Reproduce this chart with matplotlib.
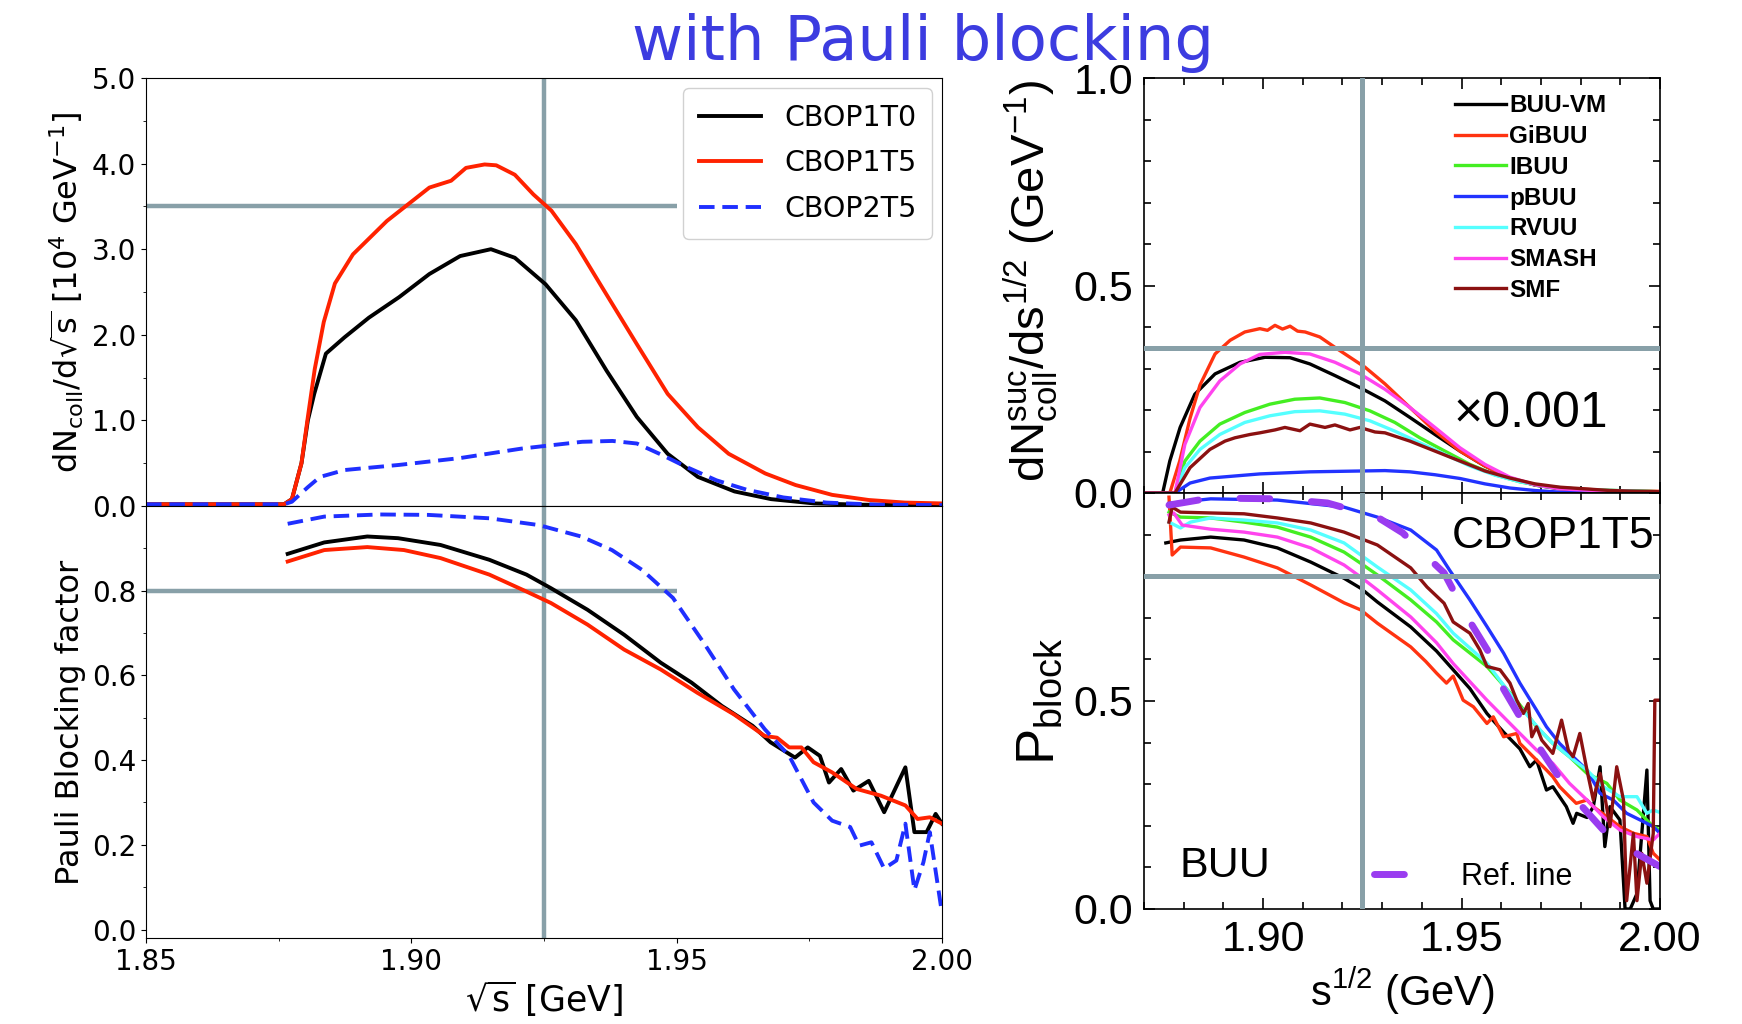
import matplotlib
matplotlib.use("Agg")
import matplotlib.pyplot as plt
from matplotlib.ticker import MultipleLocator, FixedLocator, FixedFormatter

# ---------------- left panel data ----------------
# upper: dN_coll/dsqrt(s) in units of 1e4 GeV^-1
up_t0_x = [1.850, 1.876, 1.8775, 1.8793, 1.8805, 1.8817, 1.8839, 1.8874, 1.892, 1.8977, 1.9034,
           1.9092, 1.915, 1.9195, 1.9253, 1.931, 1.9368, 1.9425, 1.9483, 1.954, 1.9609, 1.9678,
           1.9759, 1.985, 2.000]
up_t0_y = [0.02, 0.02, 0.08, 0.5, 1.0, 1.31, 1.78, 1.97, 2.2, 2.44, 2.71,
           2.92, 3.0, 2.9, 2.59, 2.17, 1.58, 1.04, 0.61, 0.34, 0.17, 0.08,
           0.03, 0.015, 0.01]
up_t5_x = [1.850, 1.876, 1.8775, 1.8793, 1.8805, 1.8818, 1.8835, 1.8856, 1.889, 1.8954, 1.9034,
           1.9075, 1.9103, 1.9138, 1.916, 1.9195, 1.923, 1.9264, 1.931, 1.9356, 1.9425, 1.9483,
           1.954, 1.9598, 1.9667, 1.9724, 1.9793, 1.9862, 1.993, 2.000]
up_t5_y = [0.02, 0.02, 0.08, 0.5, 1.04, 1.6, 2.15, 2.6, 2.94, 3.33, 3.72,
           3.80, 3.95, 3.99, 3.98, 3.87, 3.64, 3.45, 3.06, 2.59, 1.89, 1.31,
           0.92, 0.61, 0.38, 0.245, 0.13, 0.07, 0.04, 0.03]
up_p2_x = [1.850, 1.876, 1.8775, 1.8805, 1.8828, 1.8874, 1.8977, 1.9092, 1.9207, 1.9264, 1.9322,
           1.9379, 1.9425, 1.9471, 1.9517, 1.9575, 1.9632, 1.9701, 1.9782, 1.988, 2.000]
up_p2_y = [0.02, 0.02, 0.05, 0.22, 0.34, 0.42, 0.48, 0.56, 0.67, 0.71, 0.75,
           0.76, 0.73, 0.6, 0.46, 0.3, 0.19, 0.1, 0.04, 0.015, 0.01]

# lower: Pauli blocking factor
lo_t0_x = [1.8767, 1.8836, 1.8917, 1.8975, 1.9055, 1.9147, 1.9217, 1.9263, 1.9332, 1.9401, 1.947,
           1.9528, 1.9585, 1.9643, 1.9677, 1.9723, 1.9747, 1.977, 1.9787, 1.981, 1.9833, 1.9862,
           1.9891, 1.9931, 1.9948, 1.9971, 1.9988, 2.000]
lo_t0_y = [0.887, 0.914, 0.928, 0.924, 0.908, 0.873, 0.838, 0.806, 0.755, 0.696, 0.63,
           0.583, 0.528, 0.481, 0.442, 0.406, 0.43, 0.41, 0.347, 0.379, 0.328, 0.351,
           0.277, 0.383, 0.23, 0.23, 0.273, 0.25]
lo_t5_x = [1.8767, 1.8836, 1.8917, 1.8986, 1.9055, 1.9147, 1.9217, 1.9263, 1.9332, 1.9401, 1.947,
           1.9539, 1.9608, 1.9666, 1.9689, 1.9712, 1.9735, 1.9758, 1.9793, 1.9839, 1.9885, 1.9931,
           1.9954, 1.9977, 2.000]
lo_t5_y = [0.869, 0.896, 0.903, 0.896, 0.877, 0.838, 0.798, 0.771, 0.72, 0.661, 0.614,
           0.559, 0.508, 0.457, 0.453, 0.43, 0.43, 0.395, 0.371, 0.332, 0.316, 0.293,
           0.261, 0.265, 0.25]
lo_p2_x = [1.8767, 1.8836, 1.894, 1.9032, 1.9147, 1.924, 1.932, 1.9378, 1.9435, 1.9493, 1.9551,
           1.9608, 1.9666, 1.9712, 1.9758, 1.9793, 1.9827, 1.9844, 1.9867, 1.9891, 1.9914, 1.9931,
           1.9948, 1.9965, 1.9977, 2.000]
lo_p2_y = [0.958, 0.975, 0.98, 0.979, 0.971, 0.955, 0.928, 0.896, 0.849, 0.783, 0.677,
           0.567, 0.473, 0.41, 0.30, 0.257, 0.242, 0.198, 0.206, 0.144, 0.163, 0.25,
           0.093, 0.159, 0.23, 0.038]

# ---------------- right panel data (BUU codes, CBOP1T5) ----------------
codes = ["BUU-VM", "GiBUU", "IBUU", "pBUU", "RVUU", "SMASH", "SMF"]
code_colors = ["black", "#ff3311", "#44ee22", "#2233ff", "#55ffff", "#ff44ee", "#8b1111"]

# upper: dN^suc_coll/ds^1/2 (x0.001)
dn_x = {
    "BUU-VM": [1.870, 1.8747, 1.8765, 1.8791, 1.8828, 1.8879, 1.8942, 1.9005, 1.9068, 1.9118, 1.9181,
               1.9244, 1.9307, 1.937, 1.9433, 1.9496, 1.9559, 1.9622, 1.9685, 1.9748, 1.9874, 2.0],
    "GiBUU": [1.870, 1.8765, 1.879, 1.8816, 1.8841, 1.8879, 1.8917, 1.8954, 1.8992, 1.9011, 1.903,
              1.9049, 1.9068, 1.9087, 1.9106, 1.9143, 1.9181, 1.9219, 1.9257, 1.9307, 1.937, 1.9433,
              1.9496, 1.9559, 1.9622, 1.9685, 1.9748, 1.9874, 2.0],
    "IBUU": [1.870, 1.8778, 1.8803, 1.8841, 1.8891, 1.8954, 1.9017, 1.908, 1.9143, 1.9206, 1.9269,
             1.9332, 1.9395, 1.9458, 1.9521, 1.9584, 1.9647, 1.971, 1.9811, 2.0],
    "pBUU": [1.870, 1.8778, 1.8816, 1.8866, 1.8992, 1.9118, 1.9244, 1.9307, 1.937, 1.9433, 1.9496,
             1.9559, 1.9622, 1.9685, 1.9748, 2.0],
    "RVUU": [1.870, 1.8778, 1.8803, 1.8841, 1.8891, 1.8954, 1.9017, 1.908, 1.9143, 1.9206, 1.9269,
             1.9332, 1.9395, 1.9458, 1.9521, 1.9584, 1.9647, 1.971, 1.9811, 2.0],
    "SMASH": [1.870, 1.8778, 1.8803, 1.8841, 1.8891, 1.8942, 1.8992, 1.9055, 1.9118, 1.9181, 1.9244,
              1.9307, 1.937, 1.9433, 1.9496, 1.9559, 1.9622, 1.9685, 1.9748, 1.9874, 2.0],
    "SMF": [1.870, 1.8778, 1.8816, 1.8866, 1.8904, 1.8929, 1.8967, 1.8992, 1.903, 1.9055, 1.9093,
            1.9118, 1.9156, 1.9181, 1.9219, 1.9244, 1.9282, 1.9307, 1.937, 1.9433, 1.9496, 1.9559,
            1.9622, 1.9685, 1.9748, 1.9874, 2.0],
}
dn_y = {
    "BUU-VM": [0, 0, 0.077, 0.158, 0.238, 0.287, 0.315, 0.327, 0.326, 0.311, 0.283,
               0.254, 0.222, 0.182, 0.141, 0.101, 0.065, 0.036, 0.019, 0.01, 0.004, 0.002],
    "GiBUU": [0, 0, 0.077, 0.18, 0.26, 0.335, 0.368, 0.388, 0.396, 0.392, 0.404,
              0.395, 0.402, 0.39, 0.388, 0.376, 0.351, 0.327, 0.303, 0.263, 0.206, 0.149,
              0.101, 0.065, 0.036, 0.02, 0.012, 0.006, 0.004],
    "IBUU": [0, 0, 0.077, 0.125, 0.166, 0.194, 0.214, 0.226, 0.229, 0.218, 0.198,
             0.17, 0.133, 0.101, 0.069, 0.044, 0.027, 0.016, 0.008, 0.003],
    "pBUU": [0, 0, 0.024, 0.036, 0.046, 0.051, 0.053, 0.054, 0.051, 0.044, 0.035,
             0.022, 0.012, 0.006, 0.002, 0.001],
    "RVUU": [0, 0, 0.061, 0.105, 0.141, 0.17, 0.186, 0.196, 0.198, 0.19, 0.174,
             0.149, 0.121, 0.093, 0.065, 0.043, 0.027, 0.016, 0.008, 0.003],
    "SMASH": [0, 0, 0.117, 0.206, 0.27, 0.311, 0.334, 0.339, 0.335, 0.315, 0.287,
              0.25, 0.206, 0.158, 0.109, 0.069, 0.038, 0.02, 0.01, 0.004, 0.002],
    "SMF": [0, 0, 0.061, 0.105, 0.125, 0.133, 0.141, 0.145, 0.152, 0.158, 0.15,
            0.166, 0.158, 0.164, 0.152, 0.158, 0.147, 0.145, 0.125, 0.101, 0.077, 0.053,
            0.036, 0.022, 0.014, 0.006, 0.003],
}

# lower: P_block
pb_x = {
    "BUU-VM": [1.8755, 1.8792, 1.8868, 1.8952, 1.9036, 1.912, 1.9204, 1.9246, 1.9288, 1.9372, 1.9437,
               1.9479, 1.9521, 1.9564, 1.9606, 1.9647, 1.9672, 1.9689, 1.9714, 1.973, 1.9747, 1.9764,
               1.9781, 1.979, 1.9816, 1.9832, 1.9849, 1.9861, 1.9874, 1.9899, 1.9912, 1.9925, 1.9942,
               1.9967, 1.9975, 1.9983, 2.0],
    "GiBUU": [1.8763, 1.8771, 1.8792, 1.8868, 1.8952, 1.9036, 1.912, 1.9204, 1.9246, 1.9288, 1.9372,
              1.9410, 1.9437, 1.9462, 1.9479, 1.9504, 1.953, 1.9564, 1.958, 1.9606, 1.9639, 1.9647,
              1.9689, 1.9714, 1.973, 1.9747, 1.9772, 1.9789, 1.9816, 1.9832, 1.9866, 1.9899, 1.9933,
              1.9967, 1.9983, 2.0],
    "IBUU": [1.8763, 1.8792, 1.8868, 1.8952, 1.9036, 1.912, 1.9204, 1.9246, 1.9288, 1.9372, 1.9437,
             1.9479, 1.9564, 1.9631, 1.9664, 1.9689, 1.973, 1.9772, 1.9816, 1.9866, 1.9899, 1.9942,
             1.9983, 2.0],
    "pBUU": [1.8763, 1.8792, 1.8868, 1.9036, 1.9204, 1.9288, 1.9372, 1.9437, 1.9471, 1.9521, 1.9564,
             1.9606, 1.9647, 1.9689, 1.9714, 1.9747, 1.9781, 1.9816, 1.9849, 1.9882, 1.9916, 1.995,
             1.9983, 2.0],
    "RVUU": [1.8763, 1.8792, 1.8817, 1.8868, 1.8952, 1.9036, 1.912, 1.9204, 1.9246, 1.9288, 1.9372,
             1.9437, 1.9479, 1.9564, 1.9647, 1.9706, 1.973, 1.9772, 1.9816, 1.9857, 1.9899, 1.9942,
             1.9967, 1.9983, 2.0],
    "SMASH": [1.8763, 1.8775, 1.8796, 1.8868, 1.8952, 1.9036, 1.912, 1.9204, 1.9246, 1.9288, 1.9372,
              1.9437, 1.9479, 1.9564, 1.9647, 1.9689, 1.973, 1.9772, 1.9816, 1.9857, 1.9899, 1.9942,
              1.9983, 2.0],
    "SMF": [1.8763, 1.8771, 1.8792, 1.8868, 1.8952, 1.9036, 1.912, 1.9204, 1.9288, 1.9372, 1.9413,
            1.9456, 1.9479, 1.9521, 1.9546, 1.9564, 1.9597, 1.9622, 1.9639, 1.9656, 1.9668, 1.9677,
            1.9689, 1.9702, 1.973, 1.9752, 1.9769, 1.9781, 1.9798, 1.9816, 1.9832, 1.9849, 1.9861,
            1.9874, 1.9891, 1.9908, 1.9916, 1.9933, 1.9942, 1.9954, 1.9967, 1.9983, 1.9987, 2.0],
}
pb_y = {
    "BUU-VM": [0.88, 0.887, 0.894, 0.887, 0.868, 0.834, 0.795, 0.771, 0.738, 0.678, 0.62,
               0.575, 0.53, 0.47, 0.425, 0.385, 0.342, 0.358, 0.286, 0.294, 0.27, 0.246,
               0.206, 0.23, 0.22, 0.246, 0.342, 0.15, 0.246, 0.214, 0.0, 0.0, 0.037,
               0.334, 0.02, 0.0, 0.0],
    "GiBUU": [0.99, 0.851, 0.87, 0.868, 0.846, 0.82, 0.779, 0.736, 0.719, 0.687, 0.63,
              0.595, 0.567, 0.543, 0.56, 0.502, 0.486, 0.446, 0.462, 0.414, 0.422, 0.398,
              0.358, 0.334, 0.318, 0.294, 0.27, 0.254, 0.262, 0.246, 0.222, 0.198, 0.182,
              0.174, 0.134, 0.118],
    "IBUU": [0.954, 0.942, 0.94, 0.93, 0.918, 0.894, 0.858, 0.831, 0.803, 0.743, 0.69,
             0.647, 0.583, 0.51, 0.47, 0.438, 0.398, 0.366, 0.326, 0.302, 0.262, 0.238,
             0.198, 0.19],
    "pBUU": [0.975, 0.978, 0.986, 0.983, 0.966, 0.942, 0.911, 0.863, 0.813, 0.743, 0.679,
             0.615, 0.543, 0.478, 0.438, 0.398, 0.366, 0.334, 0.278, 0.262, 0.23, 0.214,
             0.198, 0.182],
    "RVUU": [0.93, 0.916, 0.93, 0.94, 0.935, 0.928, 0.911, 0.88, 0.851, 0.822, 0.767,
             0.71, 0.663, 0.591, 0.486, 0.422, 0.398, 0.366, 0.334, 0.294, 0.27, 0.27,
             0.23, 0.238, 0.232],
    "SMASH": [0.947, 0.952, 0.923, 0.913, 0.906, 0.894, 0.868, 0.827, 0.798, 0.767, 0.702,
              0.64, 0.59, 0.502, 0.422, 0.382, 0.35, 0.302, 0.262, 0.222, 0.19, 0.174,
              0.166, 0.182],
    "SMF": [0.93, 0.966, 0.954, 0.952, 0.95, 0.94, 0.928, 0.906, 0.875, 0.82, 0.774,
            0.735, 0.69, 0.663, 0.623, 0.583, 0.575, 0.543, 0.502, 0.47, 0.494, 0.414,
            0.438, 0.406, 0.374, 0.454, 0.382, 0.366, 0.422, 0.334, 0.262, 0.326, 0.27,
            0.198, 0.342, 0.262, 0.02, 0.182, 0.02, 0.134, 0.062, 0.182, 0.502, 0.502],
}
ref_x = [1.8763, 1.8868, 1.9036, 1.9162, 1.9288, 1.9352, 1.9427, 1.9456, 1.9521, 1.957, 1.9597,
         1.9647, 1.9689, 1.9739, 1.9789, 1.9857, 1.9925, 2.0]
ref_y = [0.971, 0.988, 0.986, 0.976, 0.942, 0.904, 0.834, 0.808, 0.691, 0.615, 0.543,
         0.462, 0.398, 0.326, 0.262, 0.19, 0.142, 0.102]

GRAY = "#88a0a8"

plt.rcParams["mathtext.rm"] = "Liberation Sans"
plt.rcParams["mathtext.it"] = "Liberation Sans:italic"
plt.rcParams["mathtext.bf"] = "Liberation Sans:bold"
plt.rcParams["mathtext.sf"] = "Liberation Sans"

fig = plt.figure(figsize=(17.42, 10.24), dpi=100)
W, H = 1742, 1024


def box(l, t, r, b):
    return [l / W, 1 - b / H, (r - l) / W, (b - t) / H]


ax1 = fig.add_axes(box(146, 78, 942, 506))
ax2 = fig.add_axes(box(146, 506, 942, 938), sharex=ax1)
ax3 = fig.add_axes(box(1144, 78, 1660, 493))
ax4 = fig.add_axes(box(1144, 493, 1660, 909), sharex=ax3)

# ---------------- left panel ----------------
ax1.plot(up_t0_x, up_t0_y, color="black", lw=2.8, label="CBOP1T0")
ax1.plot(up_t5_x, up_t5_y, color="#ff2200", lw=2.8, label="CBOP1T5")
ax1.plot(up_p2_x, up_p2_y, color="#1f2fff", lw=2.8, ls=(0, (4, 2)), label="CBOP2T5")
ax1.axvline(1.925, color=GRAY, lw=3.2, zorder=1)
ax1.hlines(3.5, 1.85, 1.95, color=GRAY, lw=3.2, zorder=1)
ax1.set_xlim(1.85, 2.0)
ax1.set_ylim(0, 5.0)
ax1.yaxis.set_major_locator(MultipleLocator(1.0))
ax1.yaxis.set_minor_locator(MultipleLocator(0.5))
ax1.yaxis.set_major_formatter(plt.FormatStrFormatter("%.1f"))
ax1.tick_params(axis="x", which="both", length=0, labelbottom=False)
ax1.tick_params(axis="y", labelsize=20)
ax1.set_ylabel(r"dN$_{\rm coll}$/d$\sqrt{\rm s}$ [10$^4$ GeV$^{-1}$]", fontsize=23,
               math_fontfamily="dejavusans")
ax1.yaxis.set_label_coords(-0.075, 0.5)
ax1.legend(loc="upper right", fontsize=20.5, handlelength=2.2, borderaxespad=0.35,
           borderpad=0.55, labelspacing=0.62, framealpha=0.9)

ax2.plot(lo_t0_x, lo_t0_y, color="black", lw=2.8)
ax2.plot(lo_t5_x, lo_t5_y, color="#ff2200", lw=2.8)
ax2.plot(lo_p2_x, lo_p2_y, color="#1f2fff", lw=2.8, ls=(0, (4, 2)))
ax2.axvline(1.925, color=GRAY, lw=3.2, zorder=1)
ax2.hlines(0.8, 1.85, 1.95, color=GRAY, lw=3.2, zorder=1)
ax2.set_ylim(-0.02, 1.0)
ax2.set_yticks([0.0, 0.2, 0.4, 0.6, 0.8])
ax2.yaxis.set_minor_locator(MultipleLocator(0.1))
ax2.yaxis.set_major_formatter(plt.FormatStrFormatter("%.1f"))
ax2.set_xticks([1.85, 1.90, 1.95, 2.00])
ax2.xaxis.set_minor_locator(MultipleLocator(0.025))
ax2.xaxis.set_major_formatter(plt.FormatStrFormatter("%.2f"))
ax2.tick_params(labelsize=20)
ax2.set_ylabel("Pauli Blocking factor", fontsize=23)
ax2.yaxis.set_label_coords(-0.075, 0.5)
ax2.set_xlabel(r"$\sqrt{\rm s}$ [GeV]", fontsize=25, math_fontfamily="dejavusans")
ax2.xaxis.set_label_coords(0.5, -0.095)

# ---------------- right panel ----------------
for name, col in zip(codes, code_colors):
    ax3.plot(dn_x[name], dn_y[name], color=col, lw=2.4, label=name)
    ax4.plot(pb_x[name], pb_y[name], color=col, lw=2.4)
ax4.plot(ref_x, ref_y, color="#9a3cf0", lw=5, ls=(0, (4.3, 6)), dash_capstyle="round",
         label="Ref. line")

for ax in (ax3, ax4):
    ax.axvline(1.925, color=GRAY, lw=3.6, zorder=3)
    ax.set_xlim(1.87, 2.0)
    ax.set_ylim(0, 1.0)
    ax.yaxis.set_minor_locator(MultipleLocator(0.1))
    ax.xaxis.set_major_locator(MultipleLocator(0.05))
    ax.xaxis.set_minor_locator(MultipleLocator(0.01))
    ax.tick_params(which="both", direction="in", top=True, right=True, width=1.2)
    ax.tick_params(which="major", length=8, labelsize=31, pad=8)
    ax.tick_params(which="minor", length=5)
    for sp in ax.spines.values():
        sp.set_linewidth(1.2)

# the lower axis shares the 0.0 / 1.0 boundary: label only 0.0 and 0.5 there
ax3.yaxis.set_major_locator(FixedLocator([0.0, 0.5, 1.0]))
ax3.yaxis.set_major_formatter(FixedFormatter(["0.0", "0.5", "1.0"]))
ax4.yaxis.set_major_locator(FixedLocator([0.0, 0.5, 1.0]))
ax4.yaxis.set_major_formatter(FixedFormatter(["0.0", "0.5", ""]))

ax3.axhline(0.35, color=GRAY, lw=3.6, zorder=3)
ax4.axhline(0.8, color=GRAY, lw=3.6, zorder=3)
ax3.tick_params(axis="x", labelbottom=False)
ax4.xaxis.set_major_formatter(plt.FormatStrFormatter("%.2f"))
for ax in (ax3, ax4):
    for lab in ax.get_xticklabels() + ax.get_yticklabels():
        lab.set_family("Liberation Sans")

ax3.set_ylabel(r"$\mathrm{dN^{suc}_{coll}/ds^{1/2}}$ (GeV$^{\mathrm{-1}}$)", fontsize=34,
               family="Liberation Sans", math_fontfamily="custom")
ax3.yaxis.set_label_coords(-0.163, 0.51)
ax4.set_ylabel(r"$\mathrm{P_{block}}$", fontsize=39, family="Liberation Sans",
               math_fontfamily="custom")
ax4.yaxis.set_label_coords(-0.153, 0.5)
ax4.set_xlabel(r"$\mathrm{s^{1/2}}$ (GeV)", fontsize=30, family="Liberation Sans",
               math_fontfamily="custom")
ax4.xaxis.set_label_coords(0.5, -0.135)

ax3.legend(loc="upper left", bbox_to_anchor=(0.58, 0.99), frameon=False, handlelength=2.1,
           handletextpad=0.1, labelspacing=0.32, borderpad=0,
           prop={"family": "Liberation Sans", "weight": "bold", "size": 17.5})
ax4.legend(loc="center left", bbox_to_anchor=(0.446, 0.078), frameon=False, handlelength=1.3,
           handletextpad=1.55, borderpad=0, borderaxespad=0,
           prop={"family": "Liberation Sans", "size": 22})

ax3.text(1.948, 0.19, "\u00d70.001", fontsize=36, family="Liberation Sans", va="center")
ax4.text(0.99, 0.895, "CBOP1T5", transform=ax4.transAxes, fontsize=32,
         family="Liberation Sans", ha="right", va="center")
ax4.text(1.8789, 0.104, "BUU", fontsize=31, family="Liberation Sans", va="center")

# title
fig.text(923 / W, 1 - 60 / H, "with Pauli blocking", ha="center", va="baseline",
         fontsize=45, family="DejaVu Sans", color="#3c3ce0")

fig.savefig("out.png", dpi=100)
